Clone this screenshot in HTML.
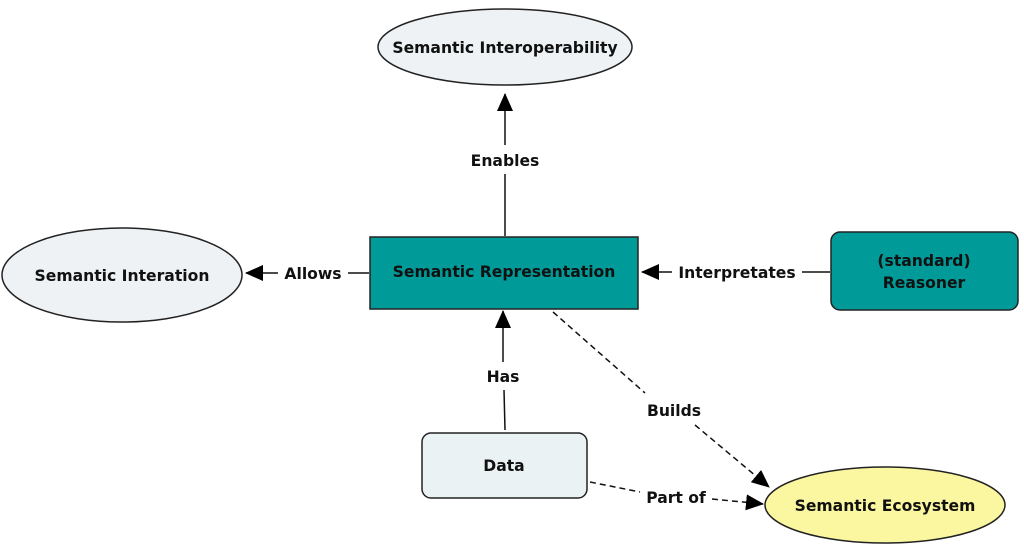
<!DOCTYPE html>
<html><head><style>
body{margin:0;background:#fff;}
text{font-family:"DejaVu Sans","Liberation Sans",sans-serif;font-weight:bold;font-size:15.6px;fill:#111;}
</style></head><body>
<svg width="1024" height="549" viewBox="0 0 1024 549" xmlns="http://www.w3.org/2000/svg">
<defs>
<marker id="b" markerWidth="18" markerHeight="16" refX="17" refY="8" orient="auto" markerUnits="userSpaceOnUse">
<path d="M0,0 L18,8 L0,16 z" fill="#000"/></marker>
</defs>
<g stroke="#111" stroke-width="1.5" fill="none">
<line x1="505" y1="236" x2="505" y2="174"/>
<line x1="505" y1="145" x2="505" y2="94" marker-end="url(#b)"/>
<line x1="369" y1="273" x2="348" y2="273"/>
<line x1="278" y1="273" x2="246" y2="273" marker-end="url(#b)"/>
<line x1="830" y1="272" x2="802" y2="272"/>
<line x1="672" y1="272" x2="642" y2="272" marker-end="url(#b)"/>
<line x1="505" y1="430" x2="504" y2="390"/>
<line x1="503" y1="362" x2="503" y2="311" marker-end="url(#b)"/>
<g stroke-dasharray="6,4">
<line x1="553" y1="312" x2="645" y2="393"/>
<line x1="695" y1="425" x2="769" y2="487" marker-end="url(#b)"/>
<line x1="590" y1="482" x2="640" y2="492"/>
<line x1="712" y1="499" x2="763" y2="504" marker-end="url(#b)"/>
</g>
</g>
<ellipse cx="505" cy="47" rx="127" ry="38" fill="#eef2f4" stroke="#222" stroke-width="1.5"/>
<text x="505" y="53" text-anchor="middle">Semantic Interoperability</text>
<ellipse cx="122" cy="275" rx="120" ry="47" fill="#eef2f4" stroke="#222" stroke-width="1.5"/>
<text x="122" y="281" text-anchor="middle">Semantic Interation</text>
<rect x="370" y="237" width="268" height="72" fill="#009a98" stroke="#222" stroke-width="1.5"/>
<text x="504" y="277" text-anchor="middle">Semantic Representation</text>
<rect x="831" y="232" width="187" height="78" rx="9" fill="#009a98" stroke="#222" stroke-width="1.5"/>
<text x="924" y="266" text-anchor="middle">(standard)</text>
<text x="924" y="288" text-anchor="middle">Reasoner</text>
<rect x="422" y="433" width="165" height="65" rx="9" fill="#eaf2f3" stroke="#222" stroke-width="1.5"/>
<text x="504" y="471" text-anchor="middle">Data</text>
<ellipse cx="885" cy="505" rx="120" ry="38" fill="#fbf7a0" stroke="#222" stroke-width="1.5"/>
<text x="885" y="511" text-anchor="middle">Semantic Ecosystem</text>
<text x="505" y="166" text-anchor="middle">Enables</text>
<text x="313" y="279" text-anchor="middle">Allows</text>
<text x="737" y="278" text-anchor="middle">Interpretates</text>
<text x="503" y="382" text-anchor="middle">Has</text>
<text x="674" y="416" text-anchor="middle">Builds</text>
<text x="676" y="503" text-anchor="middle">Part of</text>
</svg>
</body></html>
